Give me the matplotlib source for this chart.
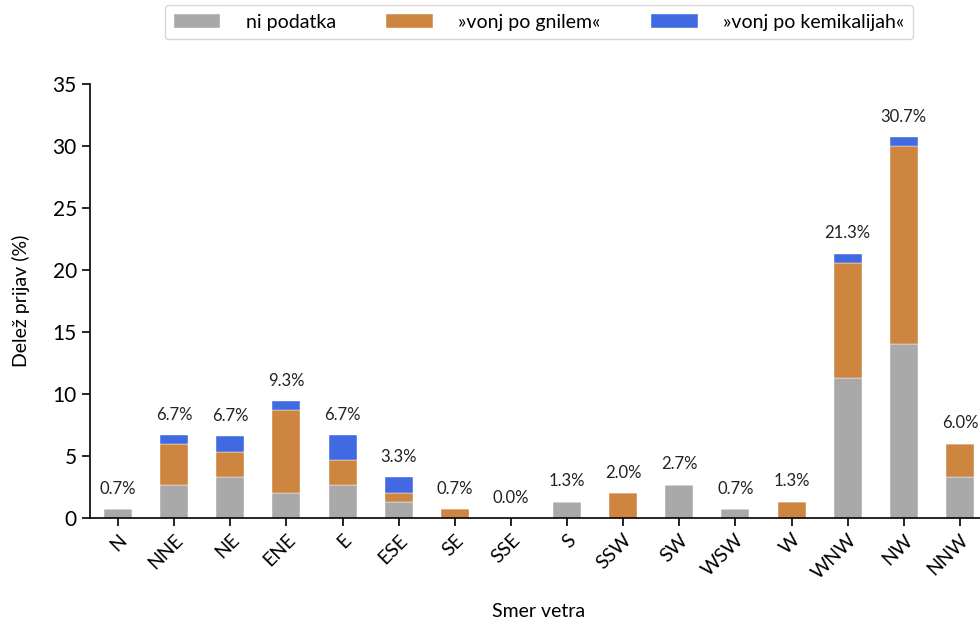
import matplotlib
matplotlib.use("Agg")
import matplotlib.pyplot as plt
import numpy as np

directions = ["N", "NNE", "NE", "ENE", "E", "ESE", "SE", "SSE", "S", "SSW",
              "SW", "WSW", "W", "WNW", "NW", "NNW"]
ni_podatka = [0.7, 2.7, 3.3, 2.0, 2.7, 1.3, 0.0, 0.0, 1.3, 0.0,
              2.7, 0.7, 0.0, 11.3, 14.0, 3.3]
gnilem = [0.0, 3.3, 2.0, 6.7, 2.0, 0.7, 0.7, 0.0, 0.0, 2.0,
          0.0, 0.0, 1.3, 9.3, 16.0, 2.7]
kemikalije = [0.0, 0.7, 1.3, 0.7, 2.0, 1.3, 0.0, 0.0, 0.0, 0.0,
              0.0, 0.0, 0.0, 0.7, 0.7, 0.0]
totals_label = ["0.7%", "6.7%", "6.7%", "9.3%", "6.7%", "3.3%", "0.7%", "0.0%",
                "1.3%", "2.0%", "2.7%", "0.7%", "1.3%", "21.3%", "30.7%", "6.0%"]
series_names = ["ni podatka", "»vonj po gnilem«", "»vonj po kemikalijah«"]
colors = ["#A9A9A9", "#CD853F", "#4169E1"]

plt.rcParams['font.family'] = ['Lato', 'DejaVu Sans']

fig = plt.figure(figsize=(9.8, 6.26), dpi=100)
ax = fig.add_axes([90/980, 108/626, 898/980, 434/626])

x = np.arange(len(directions))
a = np.array(ni_podatka)
b = np.array(gnilem)
c = np.array(kemikalije)
w = 0.5
ax.bar(x, a, w, color=colors[0], label=series_names[0], edgecolor="white", linewidth=0.3)
ax.bar(x, b, w, bottom=a, color=colors[1], label=series_names[1], edgecolor="white", linewidth=0.3)
ax.bar(x, c, w, bottom=a + b, color=colors[2], label=series_names[2], edgecolor="white", linewidth=0.3)

tot = a + b + c
for xi, t, lab in zip(x, tot, totals_label):
    ax.text(xi, t + 1.0, lab, ha="center", va="bottom", fontsize=12, color="#222222")

ax.set_xlim(-0.5, 15.5)
ax.set_ylim(0, 35)
ax.set_yticks(np.arange(0, 36, 5))
ax.set_xticks(x)
ax.set_xticklabels(directions, rotation=45, ha="right", rotation_mode="anchor")
ax.tick_params(axis="y", labelsize=15, length=6, width=1.2)
ax.tick_params(axis="x", labelsize=14, length=6, width=1.2)
for s in ["top", "right"]:
    ax.spines[s].set_visible(False)
for s in ["left", "bottom"]:
    ax.spines[s].set_linewidth(1.2)

ax.set_ylabel("Delež prijav (%)", fontsize=14)
ax.yaxis.set_label_coords(-0.067, 0.5)
ax.set_xlabel("Smer vetra", fontsize=14)
ax.xaxis.set_label_coords(0.5, -0.196)

leg = ax.legend(loc="upper center", bbox_to_anchor=(0.5, 1.205), ncol=3,
                fontsize=14, frameon=True, handlelength=2.4, handleheight=0.8,
                columnspacing=2.6, handletextpad=1.3, borderpad=0.45,
                edgecolor="#cccccc", fancybox=True)

fig.savefig("out.png", dpi=100)
